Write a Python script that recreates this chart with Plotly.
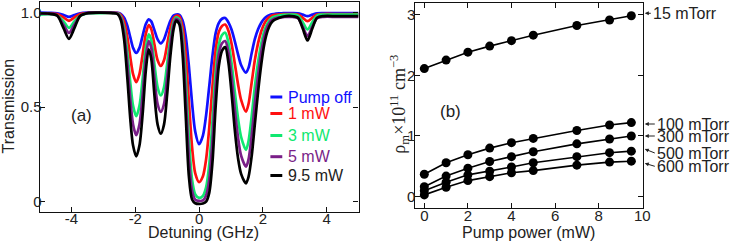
import plotly.graph_objects as go

# ---------------- Panel (a): transmission spectra ----------------
detuning = [-5.0, -4.7, -4.45, -4.25, -4.08, -3.91, -3.73, -3.5, -3.1, -2.7,
            -2.55, -2.45, -2.35, -2.25, -2.15, -2.07, -1.97, -1.87, -1.77, -1.67,
            -1.58, -1.5, -1.4, -1.3, -1.2, -1.1, -1.0, -0.9, -0.8, -0.72,
            -0.62, -0.52, -0.42, -0.32, -0.22, -0.12, 0.0, 0.12, 0.22, 0.32,
            0.42, 0.52, 0.62, 0.72, 0.82, 0.92, 1.02, 1.12, 1.22, 1.32,
            1.47, 1.55, 1.65, 1.75, 1.85, 1.95, 2.05, 2.15, 2.25, 2.35,
            2.5, 2.65, 2.9, 3.1, 3.25, 3.4, 3.55, 3.7, 3.9, 4.3, 4.7, 5.0]

t_pump_off = [1.0, 0.999, 0.997, 0.988, 0.978, 0.988, 0.997, 1.0, 1.0, 1.0,
              0.999, 0.993, 0.974, 0.931, 0.865, 0.814, 0.787, 0.814, 0.878, 0.940,
              0.965, 0.954, 0.908, 0.859, 0.838, 0.859, 0.909, 0.957, 0.985, 0.990,
              0.989, 0.960, 0.877, 0.718, 0.522, 0.370, 0.304, 0.350, 0.457, 0.613,
              0.773, 0.892, 0.946, 0.968, 0.972, 0.949, 0.910, 0.849, 0.781, 0.722,
              0.683, 0.708, 0.787, 0.861, 0.912, 0.947, 0.970, 0.983, 0.990, 0.993,
              0.996, 0.998, 0.998, 0.997, 0.990, 0.982, 0.990, 0.997, 0.998, 0.998, 0.998, 0.998]

t_1mw = [0.997, 0.996, 0.993, 0.975, 0.957, 0.975, 0.993, 0.998, 1.0, 0.999,
         0.998, 0.987, 0.952, 0.872, 0.757, 0.675, 0.632, 0.675, 0.779, 0.888,
         0.934, 0.914, 0.831, 0.748, 0.718, 0.748, 0.833, 0.919, 0.971, 0.984,
         0.980, 0.926, 0.779, 0.531, 0.289, 0.150, 0.104, 0.135, 0.224, 0.393,
         0.611, 0.803, 0.899, 0.930, 0.937, 0.905, 0.834, 0.731, 0.623, 0.537,
         0.476, 0.517, 0.632, 0.751, 0.839, 0.902, 0.944, 0.968, 0.981, 0.987,
         0.990, 0.992, 0.993, 0.990, 0.973, 0.955, 0.973, 0.990, 0.993, 0.993, 0.993, 0.993]

t_3mw = [0.990, 0.992, 0.985, 0.954, 0.920, 0.954, 0.984, 0.996, 0.998, 0.998,
         0.996, 0.977, 0.918, 0.790, 0.619, 0.507, 0.453, 0.507, 0.650, 0.815,
         0.885, 0.856, 0.726, 0.605, 0.562, 0.605, 0.730, 0.865, 0.950, 0.975,
         0.965, 0.875, 0.649, 0.336, 0.117, 0.038, 0.020, 0.031, 0.076, 0.199,
         0.427, 0.685, 0.831, 0.882, 0.894, 0.842, 0.731, 0.582, 0.442, 0.341,
         0.274, 0.320, 0.453, 0.610, 0.738, 0.837, 0.906, 0.945, 0.968, 0.978,
         0.985, 0.989, 0.990, 0.985, 0.950, 0.912, 0.950, 0.985, 0.990, 0.990, 0.990, 0.990]

t_5mw = [0.995, 0.994, 0.985, 0.936, 0.893, 0.936, 0.984, 0.997, 1.0, 0.999,
         0.994, 0.970, 0.893, 0.733, 0.531, 0.409, 0.352, 0.409, 0.567, 0.764,
         0.850, 0.815, 0.656, 0.516, 0.475, 0.516, 0.660, 0.825, 0.935, 0.968,
         0.955, 0.838, 0.566, 0.237, 0.059, 0.010, 0.004, 0.007, 0.033, 0.119,
         0.326, 0.607, 0.784, 0.838, 0.850, 0.790, 0.662, 0.490, 0.341, 0.242,
         0.185, 0.223, 0.352, 0.521, 0.670, 0.791, 0.878, 0.929, 0.957, 0.968,
         0.975, 0.977, 0.978, 0.971, 0.926, 0.876, 0.926, 0.971, 0.978, 0.978, 0.978, 0.978]

t_9p5mw = [0.997, 0.995, 0.985, 0.918, 0.862, 0.918, 0.983, 0.998, 1.0, 0.998,
           0.992, 0.960, 0.858, 0.656, 0.424, 0.297, 0.240, 0.297, 0.463, 0.694,
           0.806, 0.758, 0.564, 0.408, 0.360, 0.408, 0.570, 0.771, 0.913, 0.958,
           0.939, 0.787, 0.462, 0.135, 0.012, -0.008, -0.012, -0.010, 0.000, 0.048,
           0.210, 0.505, 0.719, 0.799, 0.818, 0.736, 0.572, 0.380, 0.232, 0.146,
           0.097, 0.131, 0.243, 0.413, 0.581, 0.727, 0.838, 0.905, 0.943, 0.961,
           0.972, 0.980, 0.982, 0.973, 0.916, 0.853, 0.916, 0.973, 0.982, 0.982, 0.982, 0.982]

spectra_names = ["Pump off", "1 mW", "3 mW", "5 mW", "9.5 mW"]
spectra = [t_pump_off, t_1mw, t_3mw, t_5mw, t_9p5mw]
spectra_colors = ["#1010ff", "#ff1010", "#10e870", "#7a1f88", "#000000"]

for s in spectra:
    assert len(s) == len(detuning), len(s)

# ---------------- Panel (b): density vs pump power ----------------
pump_power = [0, 1, 2, 3, 4, 5, 7, 8.5, 9.5]
rho_15 = [2.11, 2.25, 2.38, 2.48, 2.57, 2.66, 2.82, 2.91, 2.98]
rho_100 = [0.37, 0.56, 0.69, 0.80, 0.89, 0.96, 1.09, 1.18, 1.22]
rho_300 = [0.165, 0.34, 0.47, 0.58, 0.66, 0.74, 0.87, 0.95, 1.0]
rho_500 = [0.10, 0.24, 0.36, 0.42, 0.49, 0.56, 0.66, 0.725, 0.75]
rho_600 = [0.03, 0.155, 0.265, 0.33, 0.395, 0.43, 0.52, 0.57, 0.585]
pressures = ["15 mTorr", "100 mTorr", "300 mTorr", "500 mTorr", "600 mTorr"]
rho_series = [rho_15, rho_100, rho_300, rho_500, rho_600]

W, H = 733, 244
FONT = "Liberation Sans, Arial, Helvetica, sans-serif"
TXT = "#222222"

fig = go.Figure()

for name, ys, col in zip(spectra_names, spectra, spectra_colors):
    fig.add_trace(go.Scatter(x=detuning, y=ys, mode="lines", name=name,
                             line=dict(color=col, width=2.7, shape="spline", smoothing=0.8),
                             xaxis="x", yaxis="y", showlegend=False))

for name, ys in zip(pressures, rho_series):
    fig.add_trace(go.Scatter(x=pump_power, y=ys, mode="lines+markers", name=name,
                             line=dict(color="#000000", width=1.6),
                             marker=dict(color="#000000", size=9),
                             xaxis="x2", yaxis="y2", showlegend=False))

axis_common = dict(showline=True, linecolor="#111111", linewidth=1.2, mirror="ticks",
                   ticks="inside", ticklen=5, tickwidth=1, tickcolor="#111111",
                   showgrid=False, zeroline=False,
                   tickfont=dict(family=FONT, size=15, color=TXT))

def px_x(p):
    return p / W

def px_y(p):
    return (H - p) / H

fig.update_layout(
    width=W, height=H, autosize=False,
    margin=dict(l=0, r=0, t=0, b=0),
    paper_bgcolor="white", plot_bgcolor="white",
    font=dict(family=FONT, size=15, color=TXT),
    xaxis=dict(domain=[px_x(40), px_x(362)], range=[-5, 5],
               tickvals=[-4, -2, 0, 2, 4], ticktext=["-4", "-2", "0", "2", "4"],
               ticklabelstandoff=-7, anchor="y", **axis_common),
    yaxis=dict(domain=[px_y(212), px_y(2)], range=[-0.0545, 1.0566],
               tickvals=[0, 0.5, 1.0], ticktext=["0", "0.5", "1.0"],
               ticklabelstandoff=-6, anchor="x", **axis_common),
    xaxis2=dict(domain=[px_x(418.5), px_x(649.3)], range=[-0.45, 10.04],
                tickvals=[0, 2, 4, 6, 8, 10], ticktext=["0", "2", "4", "6", "8", "10"],
                ticklabelstandoff=-6, anchor="y2", **axis_common),
    yaxis2=dict(domain=[px_y(208.3), px_y(3)], range=[-0.191, 3.19],
                tickvals=[0, 1, 2, 3], ticktext=["0", "1", "2", "3"],
                ticklabelstandoff=-5, anchor="x2", **axis_common),
)

annotations = []
shapes = []

# axis titles and panel labels
annotations.append(dict(x=px_x(8.5), y=px_y(106), xref="paper", yref="paper",
                        text="Transmission", textangle=-90, showarrow=False,
                        font=dict(family=FONT, size=16, color=TXT),
                        xanchor="center", yanchor="middle"))
annotations.append(dict(x=px_x(205.5), y=px_y(232), xref="paper", yref="paper",
                        text="Detuning (GHz)", showarrow=False,
                        font=dict(family=FONT, size=16, color=TXT),
                        xanchor="center", yanchor="middle"))
annotations.append(dict(x=px_x(533.3), y=px_y(232), xref="paper", yref="paper",
                        text="Pump power (mW)", showarrow=False,
                        font=dict(family=FONT, size=16, color=TXT),
                        xanchor="center", yanchor="middle"))
annotations.append(dict(x=px_x(402.5), y=px_y(104), xref="paper", yref="paper",
                        text="ρ<sub>m</sub>×10<sup>11</sup> cm<sup>−3</sup>", textangle=-90,
                        showarrow=False,
                        font=dict(family="Liberation Serif, Times New Roman, serif", size=18, color=TXT),
                        xanchor="center", yanchor="middle"))
annotations.append(dict(x=px_x(82.5), y=px_y(115), xref="paper", yref="paper",
                        text="(a)", showarrow=False,
                        font=dict(family=FONT, size=17, color=TXT),
                        xanchor="center", yanchor="middle"))
annotations.append(dict(x=px_x(455.3), y=px_y(112), xref="paper", yref="paper",
                        text="(b)", showarrow=False,
                        font=dict(family=FONT, size=17, color=TXT),
                        xanchor="center", yanchor="middle"))

# legend of panel (a)
legend_y = [97, 113.5, 135.5, 156.7, 175.5]
for name, col, yy in zip(spectra_names, spectra_colors, legend_y):
    shapes.append(dict(type="line", xref="paper", yref="paper",
                       x0=px_x(273), x1=px_x(285), y0=px_y(yy), y1=px_y(yy),
                       line=dict(color=col, width=3)))
    annotations.append(dict(x=px_x(289), y=px_y(yy), xref="paper", yref="paper",
                            text=name, showarrow=False,
                            font=dict(family=FONT, size=16, color=col if col != "#000000" else TXT),
                            xanchor="left", yanchor="middle"))

# pressure labels of panel (b)
tip_y = [13.3, 124, 136, 149, 163.3]
offs = [(6, 0), (10, 0), (10, 0), (10, 4), (10, 3)]
for name, ty, (ax, ay) in zip(pressures, tip_y, offs):
    annotations.append(dict(x=px_x(651), y=px_y(ty), xref="paper", yref="paper",
                            text=name, showarrow=True, ax=ax, ay=ay,
                            xanchor="left", yanchor="middle",
                            arrowhead=2, arrowsize=0.8, arrowwidth=1, arrowcolor=TXT,
                            font=dict(family=FONT, size=16, color=TXT)))

fig.update_layout(annotations=annotations, shapes=shapes)

fig.write_html("out.html", config={"displayModeBar": False},
               post_script="document.body.style.margin='0px';document.body.style.overflow='hidden';")
